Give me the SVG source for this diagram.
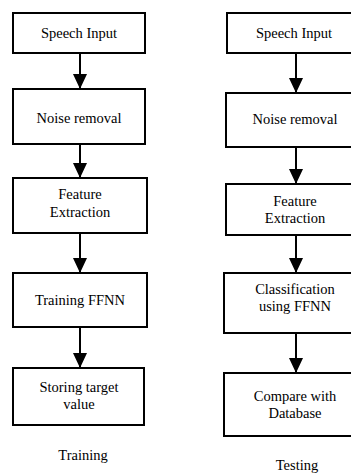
<svg xmlns="http://www.w3.org/2000/svg" width="351" height="475" viewBox="0 0 351 475">
  <style>
    .box { fill: #ffffff; stroke: #000000; stroke-width: 2; }
    .lbl { font-family: "Liberation Serif", "Times New Roman", serif; font-size: 14.5px; fill: #000000; text-anchor: middle; }
    .link { stroke: #000000; stroke-width: 2; fill: none; }
  </style>
  <defs>
    <marker id="arrow" markerUnits="userSpaceOnUse" markerWidth="16" markerHeight="16" refX="15" refY="7" orient="auto">
      <path d="M0,0 L15,7 L0,14 Z" fill="#000000"/>
    </marker>
  </defs>
  <rect width="351" height="475" fill="#ffffff"/>

  <!-- Training column -->
  <g id="train-speech-input">
    <rect class="box" x="13" y="13" width="132" height="40"/>
    <text class="lbl" x="79" y="38">Speech Input</text>
  </g>
  <g id="train-noise-removal">
    <rect class="box" x="13" y="89" width="132" height="55"/>
    <text class="lbl" x="79" y="123">Noise removal</text>
  </g>
  <g id="train-feature-extraction">
    <rect class="box" x="13" y="178" width="134" height="55"/>
    <text class="lbl" x="80" y="199">Feature</text>
    <text class="lbl" x="80" y="217">Extraction</text>
  </g>
  <g id="train-ffnn">
    <rect class="box" x="13" y="273" width="134" height="54"/>
    <text class="lbl" x="80" y="305">Training FFNN</text>
  </g>
  <g id="train-store">
    <rect class="box" x="13" y="368" width="131" height="57"/>
    <text class="lbl" x="79" y="392">Storing target</text>
    <text class="lbl" x="79" y="409">value</text>
  </g>
  <g id="train-caption">
    <text class="lbl" x="83" y="460">Training</text>
  </g>

  <!-- Testing column (boxes run past the right edge) -->
  <g id="test-speech-input">
    <rect class="box" x="227" y="13" width="140" height="40"/>
    <text class="lbl" x="294" y="38">Speech Input</text>
  </g>
  <g id="test-noise-removal">
    <rect class="box" x="226" y="93" width="140" height="54"/>
    <text class="lbl" x="295" y="124">Noise removal</text>
  </g>
  <g id="test-feature-extraction">
    <rect class="box" x="226" y="184" width="140" height="51"/>
    <text class="lbl" x="295" y="206">Feature</text>
    <text class="lbl" x="295" y="223">Extraction</text>
  </g>
  <g id="test-classification">
    <rect class="box" x="224" y="273" width="140" height="60"/>
    <text class="lbl" x="295" y="294">Classification</text>
    <text class="lbl" x="295" y="311">using FFNN</text>
  </g>
  <g id="test-compare">
    <rect class="box" x="224" y="373" width="140" height="63"/>
    <text class="lbl" x="295" y="401">Compare with</text>
    <text class="lbl" x="295" y="418">Database</text>
  </g>
  <g id="test-caption">
    <text class="lbl" x="297" y="470">Testing</text>
  </g>

  <!-- Connectors -->
  <g id="connectors">
    <line class="link" x1="80" y1="53" x2="80" y2="89" marker-end="url(#arrow)"/>
    <line class="link" x1="80" y1="144" x2="80" y2="178" marker-end="url(#arrow)"/>
    <line class="link" x1="80" y1="233" x2="80" y2="273" marker-end="url(#arrow)"/>
    <line class="link" x1="80" y1="327" x2="80" y2="368" marker-end="url(#arrow)"/>
    <line class="link" x1="296" y1="53" x2="296" y2="93" marker-end="url(#arrow)"/>
    <line class="link" x1="296" y1="147" x2="296" y2="184" marker-end="url(#arrow)"/>
    <line class="link" x1="296" y1="235" x2="296" y2="273" marker-end="url(#arrow)"/>
    <line class="link" x1="296" y1="333" x2="296" y2="373" marker-end="url(#arrow)"/>
  </g>
</svg>
